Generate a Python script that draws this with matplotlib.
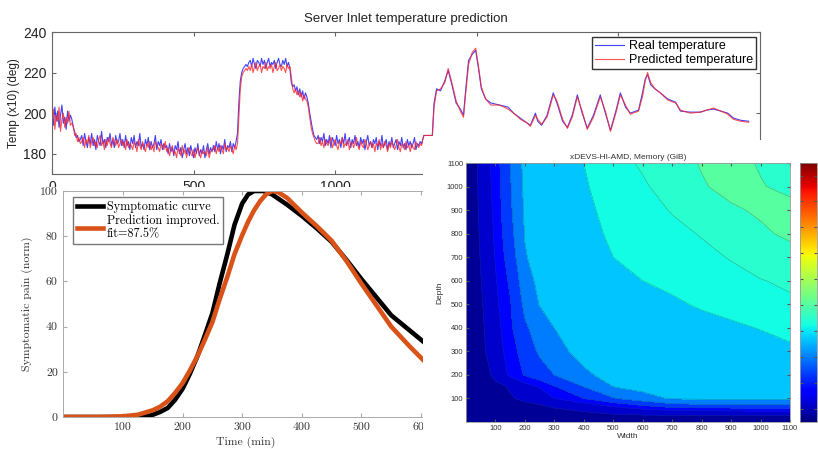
import numpy as np
import matplotlib
matplotlib.use("Agg")
import matplotlib.pyplot as plt
from matplotlib.patches import Rectangle
from matplotlib.colors import Normalize
from matplotlib.cm import ScalarMappable

# ---- top panel: server inlet temperature (x10 deg) ----
noisy_step = 5  # noisy part sampled every 5 units from t=0
real_noisy = [200, 194, 203, 196, 201, 193, 199, 204, 195, 198, 192, 201, 196, 199,
              197, 193, 191, 188, 189, 186, 187,
              189, 184, 190, 186, 183, 188, 185, 190, 184, 187, 182, 189, 186, 184, 191,
              185, 187, 183, 188, 186, 190, 184, 187, 183, 189, 185, 186, 190, 184,
              187, 183, 189, 184, 186, 182, 188, 185, 189, 183, 186, 184, 190, 183, 185,
              182, 187, 184, 188, 182, 186, 183, 185, 189, 182, 186, 184, 187, 182, 185, 183,
              184, 180, 185, 181, 183, 179, 184, 182, 186, 180, 183, 178, 182, 185, 180,
              183, 179, 184, 181, 178, 183, 180, 185, 179, 182, 180, 184, 178, 182, 185,
              180, 183, 181,
              184, 181, 186, 182, 185, 180, 184, 182, 187, 181, 184, 183, 186, 181, 185, 183, 186,
              190, 206, 216, 220, 222, 223, 224, 223, 225,
              226, 223, 227, 224, 222, 226, 225, 223, 227, 224, 226, 222, 225, 227, 223,
              225, 224, 226, 222, 225, 227, 224, 223, 226, 224, 227, 223, 225,
              222, 215, 213, 214, 211, 213, 209, 212, 208, 211, 207, 210, 208, 205, 200,
              196, 192, 189, 188, 187,
              189, 185, 188, 186, 190, 184, 187, 185, 189, 183, 188, 186, 184, 189, 185,
              187, 183, 188, 185, 190, 184, 186, 188, 183, 187, 185, 189, 184, 186, 183,
              188, 185, 187, 182, 186, 189, 184, 186, 183, 187, 185, 188, 182, 186, 184,
              189, 183, 185, 187, 182, 186, 184, 188, 183, 185, 187, 182, 186, 184, 188,
              183, 185, 182, 187, 184, 186, 183, 185, 188, 182, 185, 184, 186, 185]
pred_noisy = [195, 202, 192, 199, 196, 203, 191, 197, 200, 193, 198, 195, 201, 194,
              195, 194, 189, 190, 186, 188, 185,
              186, 188, 183, 187, 185, 189, 183, 186, 188, 184, 186, 183, 187, 189, 184,
              186, 182, 187, 184, 188, 185, 183, 188, 186, 184, 187, 183, 185, 187,
              184, 186, 182, 187, 183, 185, 184, 182, 186, 184, 181, 187, 184, 182, 186,
              183, 181, 185, 183, 186, 182, 184, 181, 186, 184, 183, 181, 185, 184, 182, 186,
              181, 183, 179, 182, 184, 180, 181, 178, 183, 181, 179, 184, 180, 182, 178,
              181, 183, 180, 179, 182, 178, 181, 183, 180, 178, 182, 180, 181, 179, 183,
              178, 181, 182,
              182, 184, 180, 183, 181, 184, 182, 180, 185, 182, 183, 181, 184, 182, 180, 184, 182,
              185, 198, 212, 218, 220, 221, 222, 221, 223,
              221, 224, 220, 223, 225, 221, 223, 224, 220, 223, 222, 225, 221, 223, 222,
              224, 220, 223, 225, 221, 222, 224, 221, 223, 222, 220, 224, 222,
              223, 218, 212, 210, 212, 209, 211, 208, 210, 206, 209, 207, 206, 203, 198,
              193, 190, 188, 186, 185,
              185, 188, 184, 186, 183, 187, 185, 184, 186, 188, 183, 185, 187, 184, 182,
              186, 185, 188, 183, 185, 184, 187, 182, 185, 186, 183, 185, 188, 184, 182,
              186, 184, 183, 187, 185, 182, 184, 186, 183, 185, 181, 185, 184, 187, 182,
              185, 183, 186, 184, 181, 185, 183, 186, 184, 182, 184, 187, 183, 181, 185,
              184, 182, 186, 183, 184, 181, 185, 183, 182, 186, 184, 183, 185, 184]
smooth_t = [1313, 1343, 1349, 1358, 1372, 1387, 1399, 1412, 1427, 1442,
            1453, 1461, 1471, 1484, 1496, 1506, 1516, 1531, 1550, 1580,
            1610, 1630, 1654, 1679, 1689, 1701, 1707, 1715, 1729, 1748,
            1770, 1783, 1803, 1820, 1837, 1855, 1872, 1890, 1912, 1936,
            1954, 1972, 1991, 2007, 2025, 2042, 2071, 2085, 2095, 2103,
            2114, 2129, 2148, 2174, 2202, 2219, 2253, 2290, 2312, 2336,
            2362, 2386, 2406, 2431, 2460]
real_smooth = [189, 189, 205, 212, 211, 216, 221, 214, 205, 202,
               199, 212, 226, 229, 231, 222, 212, 207, 205, 204,
               203, 200, 197.5, 195, 194, 198, 200, 196, 194, 199,
               210, 205, 196, 193, 199, 209, 200, 192.6, 199, 209,
               200, 191.6, 201, 210, 203, 200, 201.5, 210, 217, 219,
               214, 212, 210, 207, 205.4, 201, 200.5, 200.5, 201.5, 202,
               201, 200, 197.6, 196.5, 196]
pred_smooth = [189, 189, 203, 211, 212, 215, 222, 215, 206, 201,
               198, 210, 224, 230, 232, 223, 213, 207, 204, 204,
               202, 200, 197, 195, 193.5, 197, 199, 197, 194.5, 198,
               209, 206, 197, 192.5, 198, 208, 201, 192, 198, 208,
               201, 191, 200, 209, 204, 199.5, 201, 208, 216, 220,
               215, 212, 210, 206.5, 205, 201.5, 200, 200.5, 201.5, 202.5,
               201, 199.5, 197, 196, 195.5]

# ---- bottom left: symptomatic pain ----
sym_t = [0, 100, 130, 140, 150, 162, 175, 187, 200, 212, 225, 237, 250, 262, 275, 287,
         300, 310, 320, 335, 350, 375, 400, 425, 450, 475, 500, 525, 550, 580, 610]
sym_curve = [0, 0, 0, 0.3, 1, 2.2, 4, 7.5, 12.5, 19, 27, 36, 46, 59, 72, 85,
             94.5, 98.5, 100, 100, 98.5, 94, 89, 83.5, 77.5, 69.5, 61, 53, 45, 38.5, 32]
pred_t = [0, 60, 100, 125, 150, 162, 175, 187, 200, 212, 225, 237, 250, 262, 275, 287,
          300, 310, 320, 330, 340, 350, 360, 375, 400, 425, 450, 475, 500, 525, 550, 580, 610]
pred_curve = [0, 0, 0.3, 1, 3, 4.5, 7, 10.5, 15, 20.5, 27, 34, 42, 52, 62, 72,
              80.5, 86.5, 91.5, 95.5, 98.5, 100, 99.5, 97, 90.5, 84.5, 78, 69, 59, 49.5, 40, 31.5, 23.5]

# ---- bottom right: memory contour ----
width_grid = [0, 50, 100, 150, 200, 250, 300, 400, 500, 600, 700, 800, 900, 1000, 1100]
depth_grid = [0, 25, 50, 75, 100, 150, 200, 300, 400, 500, 600, 700, 800, 900, 1000, 1100]
memory = [
    [0, 0, 0, 0, 0, 0, 0, 0, 0, 0, 0, 0, 0, 0, 0],
    [0, 0.8, 1.3, 1.7, 2.0, 2.2, 2.4, 2.8, 3.0, 3.1, 3.2, 3.3, 3.3, 3.3, 3.3],
    [0, 1.1, 1.8, 2.3, 2.7, 3.0, 3.4, 4.4, 6.0, 8.0, 9.8, 10.2, 10.4, 10.5, 10.5],
    [0, 1.5, 2.5, 3.2, 3.7, 4.0, 5.0, 8.0, 12.0, 16.0, 20.0, 21.0, 21.3, 21.5, 21.5],
    [0, 1.9, 3.1, 3.8, 4.4, 5.5, 9.5, 14.5, 20.5, 25.0, 27.5, 28.0, 28.2, 28.3, 28.4],
    [0, 2.2, 3.4, 4.2, 7.0, 10.0, 14.0, 21.0, 27.0, 28.6, 29.2, 29.5, 29.7, 29.8, 29.9],
    [0, 2.6, 4.6, 10.5, 15.0, 18.0, 21.0, 26.2, 28.5, 29.4, 30.0, 30.3, 30.5, 30.7, 30.8],
    [0, 2.8, 6.5, 12.0, 17.0, 22.0, 25.5, 28.5, 30.2, 31.2, 32.0, 32.8, 33.5, 34.0, 34.6],
    [0, 3.0, 7.2, 13.4, 20.0, 24.0, 27.0, 30.0, 31.6, 32.6, 33.4, 34.1, 34.6, 35.1, 35.6],
    [0, 3.3, 8.2, 14.0, 22.5, 27.2, 29.3, 31.5, 32.8, 33.8, 34.6, 35.3, 35.8, 36.2, 36.6],
    [0, 3.8, 9.0, 15.5, 24.5, 28.5, 30.3, 32.6, 34.0, 35.0, 35.6, 36.1, 36.5, 36.9, 37.4],
    [0, 4.2, 9.8, 17.5, 26.5, 29.5, 31.0, 33.3, 35.0, 35.7, 36.2, 36.6, 37.1, 38.2, 39.4],
    [0, 4.5, 10.3, 19.0, 27.3, 30.0, 31.4, 34.0, 35.5, 36.1, 36.6, 37.1, 38.6, 40.3, 41.8],
    [0, 4.8, 10.8, 20.0, 27.8, 30.4, 31.8, 34.5, 35.7, 36.4, 37.1, 38.6, 40.4, 41.6, 42.5],
    [0, 5.0, 11.3, 20.5, 28.2, 30.8, 32.2, 34.8, 35.9, 36.7, 38.0, 40.6, 42.3, 41.3, 39.8],
    [0, 5.2, 11.7, 21.0, 28.6, 31.2, 32.6, 35.0, 36.2, 37.3, 39.3, 41.3, 42.5, 40.6, 39.0],
]
levels = [0, 4, 9.5, 14.5, 21, 27, 35, 37, 41, 47]

plt.rcParams['font.family'] = ['Liberation Sans', 'DejaVu Sans']

W, H = 818, 449
fig = plt.figure(figsize=(W / 100, H / 100), dpi=100)


def box(left, top, right, bottom):
    # pixel box -> figure fraction rect
    return [left / W, 1 - bottom / H, (right - left) / W, (bottom - top) / H]


# top panel
ax1 = fig.add_axes(box(52, 32, 760, 174), zorder=1)
t_noisy = np.arange(len(real_noisy)) * noisy_step
tp_noisy = np.arange(len(pred_noisy)) * noisy_step
ax1.plot(np.concatenate([t_noisy, smooth_t]), np.concatenate([real_noisy, real_smooth]),
         color='#2020ff', lw=0.8, alpha=0.85, label='Real temperature')
ax1.plot(np.concatenate([tp_noisy, smooth_t]), np.concatenate([pred_noisy, pred_smooth]),
         color='#ff2525', lw=0.8, alpha=0.8, label='Predicted temperature')
ax1.set_xlim(0, 2500)
ax1.set_ylim(170, 240)
ax1.set_xticks(range(0, 2501, 500))
ax1.set_yticks([180, 200, 220, 240])
ax1.tick_params(direction='in', top=True, right=True, labelsize=10, length=3, pad=4,
                color='#666666', labelcolor='#222222')
for s in ax1.spines.values():
    s.set_color('#666666')
    s.set_linewidth(0.8)
ax1.set_title('Server Inlet temperature prediction', fontsize=9.5, pad=7, color='#222222')
ax1.set_ylabel('Temp (x10) (deg)', fontsize=8.5, labelpad=2, color='#222222')
ax1.legend(loc='upper right', bbox_to_anchor=(1 - 4 / 708, 1 - 5 / 142), borderaxespad=0,
           fontsize=9, fancybox=False, edgecolor='#333333', framealpha=1,
           handlelength=2.3, handletextpad=0.4, borderpad=0.25, labelspacing=0.15)

# white background of the middle-left picture (cuts the top panel's tick labels)
fig.add_artist(Rectangle((0, 0), 423 / W, 1 - 186.5 / H, transform=fig.transFigure,
                         facecolor='white', edgecolor='none', zorder=2))

# bottom left panel
ax2 = fig.add_axes(box(63.4, 191, 427, 417), zorder=3)
ax2.plot(sym_t, sym_curve, color='black', lw=3.3, label='Symptomatic curve')
ax2.plot(pred_t, pred_curve, color='#d95319', lw=3.3, label='Prediction improved.\nfit=87.5%')
ax2.set_xlim(0, 610)
ax2.set_ylim(0, 100)
ax2.set_xticks(range(100, 601, 100))
ax2.set_yticks(range(0, 101, 20))
ax2.tick_params(direction='in', top=True, right=True, labelsize=8.5, length=3, pad=4,
                color='#aaaaaa', labelcolor='#333333', labelfontfamily='cmr10')
for s in ax2.spines.values():
    s.set_color('#aaaaaa')
    s.set_linewidth(0.7)
ax2.set_xlabel('Time (min)', fontsize=8.5, fontfamily='cmr10', labelpad=3, color='#333333')
ax2.set_ylabel('Symptomatic pain (norm)', fontsize=8.5, fontfamily='cmr10', labelpad=5,
               color='#333333')
ax2.legend(loc='upper left', bbox_to_anchor=(0.026, 0.973), borderaxespad=0,
           prop={'family': 'cmr10', 'size': 8.8}, fancybox=False, edgecolor='#777777',
           framealpha=1, handlelength=2.2, handletextpad=0.3, borderpad=0.3,
           labelspacing=0.1)

# white background of the contour picture
fig.add_artist(Rectangle((423 / W, 0), 1 - 423 / W, 1 - 140 / H, transform=fig.transFigure,
                         facecolor='white', edgecolor='none', zorder=4))

# bottom right panel
ax3 = fig.add_axes(box(466, 163, 790, 422), zorder=5)
ax3.contourf(width_grid, depth_grid, memory, levels=levels, cmap='jet', vmin=0, vmax=97)
ax3.contour(width_grid, depth_grid, memory, levels=levels[1:], colors='#1d4545',
            linewidths=0.45, alpha=0.4)
ax3.set_xlim(0, 1100)
ax3.set_ylim(0, 1100)
ax3.set_xticks(range(100, 1101, 100))
ax3.set_yticks(range(100, 1101, 100))
ax3.tick_params(direction='in', top=True, right=True, labelsize=5.5, length=2, pad=2,
                color='#555555', labelcolor='#333333')
for s in ax3.spines.values():
    s.set_color('#999999')
    s.set_linewidth(0.6)
ax3.set_title('xDEVS-HI-AMD, Memory (GiB)', fontsize=6, pad=3, color='#333333')
ax3.set_xlabel('Width', fontsize=6, labelpad=1, color='#333333')
ax3.set_ylabel('Depth', fontsize=6, labelpad=2, color='#333333')

cax = fig.add_axes(box(800, 163, 817, 422), zorder=5)
cb = fig.colorbar(ScalarMappable(norm=Normalize(0, 97), cmap='jet'), cax=cax)
cb.set_ticks(np.arange(5, 97, 9.7))
cax.tick_params(direction='in', length=2, left=True, right=True, labelright=False,
                color='#555555')
cb.outline.set_edgecolor('#999999')
cb.outline.set_linewidth(0.6)

fig.savefig('out.png', dpi=100)
